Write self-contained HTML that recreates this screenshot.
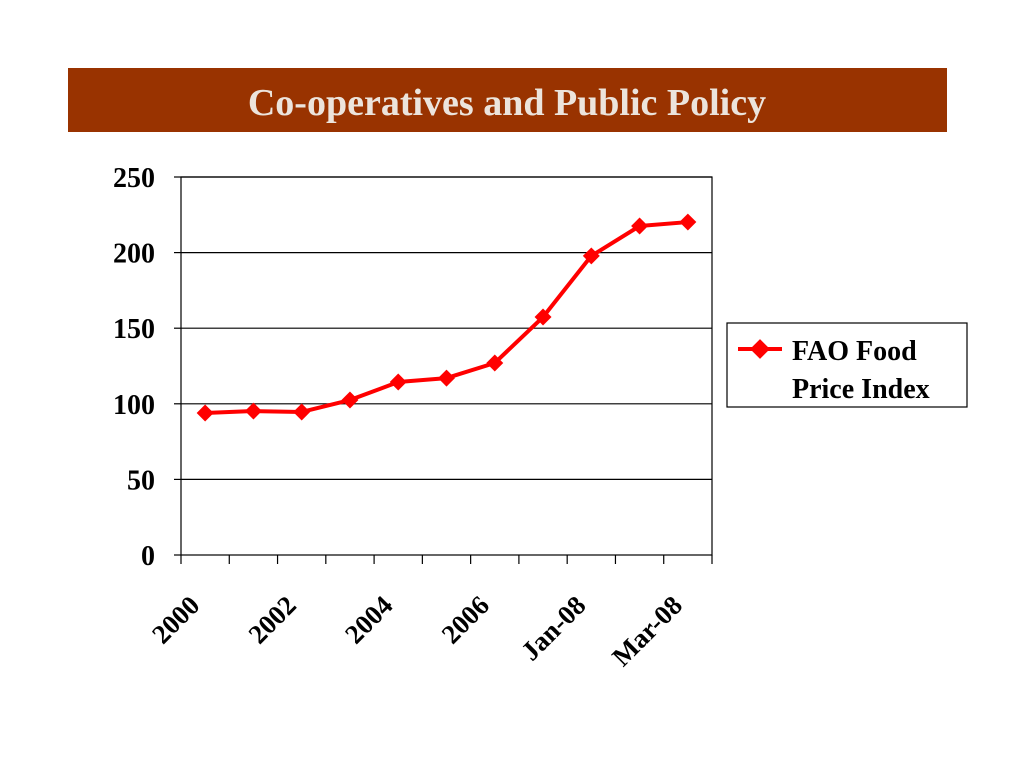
<!DOCTYPE html>
<html><head><meta charset="utf-8"><style>
body{margin:0;background:#fff;width:1024px;height:768px;overflow:hidden;font-family:"Liberation Serif",serif}
</style></head><body>
<svg width="1024" height="768">
<rect x="68" y="68" width="879" height="64" fill="#993300"/>
<text x="507" y="115" text-anchor="middle" font-size="38" font-weight="bold" fill="#ece4dc">Co-operatives and Public Policy</text>
<g id="plot"></g>
<rect x="727" y="323" width="240" height="84" fill="#fff" stroke="#000" stroke-width="1.2"/>
<line x1="738" y1="349" x2="782" y2="349" stroke="#ff0000" stroke-width="4"/>
<rect x="753" y="342" width="14" height="14" fill="#ff0000" transform="rotate(45 760 349)"/>
<text x="792" y="360" font-size="28" font-weight="bold"><tspan x="792" y="360">FAO Food</tspan><tspan x="792" y="398">Price Index</tspan></text>
</svg>
<script>
const categories=["2000","2001","2002","2003","2004","2005","2006","2007","Jan-08","Feb-08","Mar-08"];
const values=[93.9,95.2,94.6,102.5,114.4,117,127,157.4,197.8,217.6,220.2];
const yTicks=[0,50,100,150,200,250];
const xLabelIdx=[0,2,4,6,8,10];
const NS="http://www.w3.org/2000/svg";
const g=document.getElementById("plot");
const L=181,R=712,T=177,B=555,yMax=250;
const bw=(R-L)/categories.length;
const xs=i=>L+bw*(i+0.5);
const ys=v=>B-(v/yMax)*(B-T);
function mk(t,a){const e=document.createElementNS(NS,t);for(const k in a)e.setAttribute(k,a[k]);g.appendChild(e);return e;}
yTicks.forEach(v=>{
 if(v>0){const l=mk("line",{x1:L,x2:R,y1:ys(v),y2:ys(v),stroke:"#000","stroke-width":1.2});
 
 }
 const tk=mk("line",{x1:L-7,x2:L,y1:ys(v),y2:ys(v),stroke:"#000","stroke-width":1.2});
 
 
 const t=mk("text",{x:155,y:ys(v)+10,"text-anchor":"end","font-size":28,"font-weight":"bold"});
 t.textContent=v;
 
 
});
const fr=mk("rect",{x:L,y:T,width:R-L,height:B-T,fill:"none",stroke:"#000","stroke-width":1.2});


for(let i=0;i<=categories.length;i++){
 const x=L+bw*i;
 const tk=mk("line",{x1:x,x2:x,y1:B,y2:B+9,stroke:"#000","stroke-width":1.2});
 
 
}
xLabelIdx.forEach(i=>{
 const x=xs(i)-4,y=B+52;
 const t=mk("text",{x:x,y:y,"text-anchor":"end","font-size":27,"font-weight":"bold",transform:`rotate(-45 ${x} ${y})`});
 t.textContent=categories[i];
 
 
});
const pl=mk("polyline",{points:values.map((v,i)=>xs(i)+","+ys(v)).join(" "),fill:"none",stroke:"#ff0000","stroke-width":4,"stroke-linejoin":"round"});


values.forEach((v,i)=>{
 const x=xs(i),y=ys(v);
 const m=mk("rect",{x:x-6,y:y-6,width:12,height:12,fill:"#ff0000",transform:`rotate(45 ${x} ${y})`});
 
 
});
</script>
</body></html>
